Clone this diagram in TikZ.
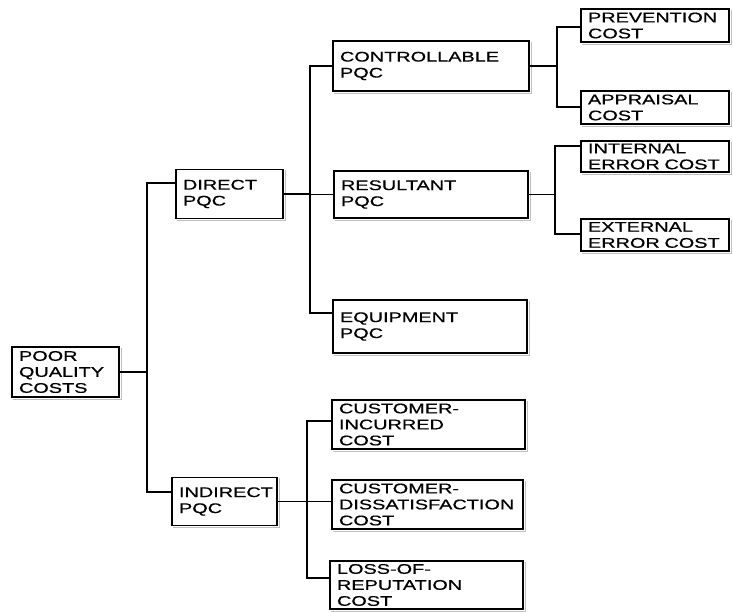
\documentclass[tikz,border=0pt]{standalone}
\usepackage{fontspec}
\setmainfont{Liberation Sans}[FakeStretch=1.42,FakeBold=0.6]
\usetikzlibrary{calc}
\begin{document}
\begin{tikzpicture}[x=1pt,y=-1pt,
  box/.style={draw=black, line width=1.4pt, fill=white, align=left,
    inner xsep=7pt, inner ysep=0pt, font=\fontsize{14}{16}\selectfont},
  trunk/.style={line width=2.8pt, line cap=rect},
  branch/.style={line width=1.8pt},
  shade/.style={draw=gray!50, line width=1.2pt}]
\useasboundingbox (0,0) rectangle (733,612);

% level 0
\node[box, minimum height=50pt, text width=93pt] (poor) at (65.5,372) {POOR\\QUALITY\\COSTS};

% level 1
\node[box, minimum height=49pt, text width=93pt] (direct) at (229.5,194) {DIRECT\\PQC};
\node[box, minimum height=48pt, text width=91pt] (indirect) at (224.5,501.5) {INDIRECT\\PQC};

% level 2
\node[box, minimum height=50pt, text width=182pt] (controllable) at (431,66) {CONTROLLABLE\\PQC};
\node[box, minimum height=47pt, text width=180pt] (resultant) at (431,194.5) {RESULTANT\\PQC};
\node[box, minimum height=53pt, text width=180pt] (equipment) at (430,326.5) {EQUIPMENT\\PQC};
\node[box, minimum height=49pt, text width=179pt] (custinc) at (428.5,424.5) {CUSTOMER-\\INCURRED\\COST};
\node[box, minimum height=49pt, text width=177pt] (custdiss) at (427.5,504.5) {CUSTOMER-\\DISSATISFACTION\\COST};
\node[box, minimum height=48pt, text width=179pt] (loss) at (426.5,585) {LOSS-OF-\\REPUTATION\\COST};

% level 3
\node[box, minimum height=33pt, text width=134pt] (prevention) at (655,25.5) {PREVENTION\\COST};
\node[box, minimum height=33pt, text width=134pt] (appraisal) at (655,107.5) {APPRAISAL\\COST};
\node[box, minimum height=31pt, text width=134pt] (internal) at (655,156.5) {INTERNAL\\ERROR COST};
\node[box, minimum height=32pt, text width=134pt] (external) at (655,235) {EXTERNAL\\ERROR COST};

% soft grey edge below and right of every box
\foreach \n in {poor,direct,indirect,controllable,resultant,equipment,custinc,custdiss,loss,prevention,appraisal,internal,external}
  \draw[shade] ($(\n.south west)+(1.6,1.6)$) -- ($(\n.south east)+(1.6,1.6)$) -- ($(\n.north east)+(1.6,1.6)$);

% trunk points
\coordinate (t1a) at (147,183);
\coordinate (t1b) at (147,492);
\coordinate (t2a) at (310,66);
\coordinate (t2b) at (310,313);
\coordinate (t3a) at (307,421);
\coordinate (t3b) at (307,578);
\coordinate (t4a) at (557,27);
\coordinate (t4b) at (557,107);
\coordinate (t5a) at (555,146);
\coordinate (t5b) at (555,234);

% poor quality costs -> direct / indirect
\draw[branch] (poor.east) -- (poor.east -| t1a);
\draw[trunk] (t1a) -- (t1b);
\draw[branch] (t1a) -- (t1a -| direct.west);
\draw[branch] (t1b) -- (t1b -| indirect.west);

% direct -> controllable / resultant / equipment
\draw[branch] (direct.east) -- (direct.east -| t2a);
\draw[trunk] (t2a) -- (t2b);
\draw[branch] (t2a) -- (controllable.west);
\draw[branch] (resultant.west -| t2a) -- (resultant.west);
\draw[branch] (t2b) -- (t2b -| equipment.west);

% indirect -> customer-incurred / customer-dissatisfaction / loss-of-reputation
\draw[branch] (indirect.east) -- (indirect.east -| t3a);
\draw[trunk] (t3a) -- (t3b);
\draw[branch] (t3a) -- (t3a -| custinc.west);
\draw[branch] (indirect.east -| t3a) -- (indirect.east -| custdiss.west);
\draw[branch] (t3b) -- (t3b -| loss.west);

% controllable -> prevention / appraisal
\draw[branch] (controllable.east) -- (controllable.east -| t4a);
\draw[trunk] (t4a) -- (t4b);
\draw[branch] (t4a) -- (t4a -| prevention.west);
\draw[branch] (t4b) -- (t4b -| appraisal.west);

% resultant -> internal / external
\draw[branch] (resultant.east) -- (resultant.east -| t5a);
\draw[trunk] (t5a) -- (t5b);
\draw[branch] (t5a) -- (t5a -| internal.west);
\draw[branch] (t5b) -- (t5b -| external.west);
\end{tikzpicture}
\end{document}
